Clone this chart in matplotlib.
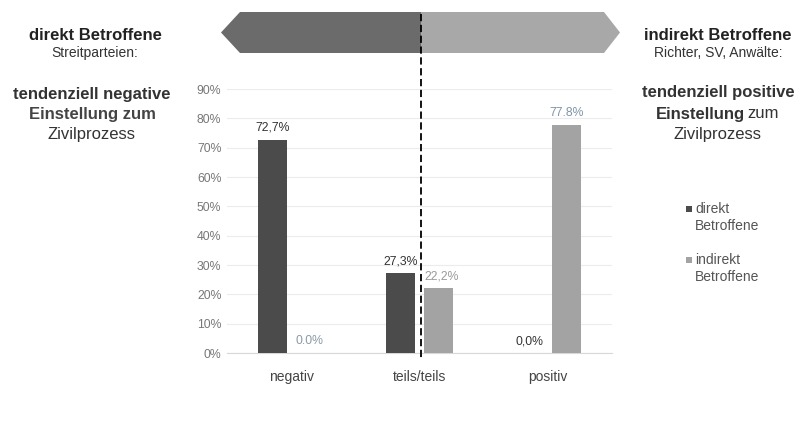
import matplotlib.pyplot as plt
from matplotlib.patches import Polygon
from matplotlib.lines import Line2D
import numpy as np

plt.rcParams['font.family'] = ['Liberation Sans', 'DejaVu Sans']

# data
categories = ["negativ", "teils/teils", "positiv"]
direkt = [72.7, 27.3, 0.0]
indirekt = [0.0, 22.2, 77.8]
direkt_labels = ["72,7%", "27,3%", "0,0%"]
indirekt_labels = ["0.0%", "22,2%", "77.8%"]
yticks = [0, 10, 20, 30, 40, 50, 60, 70, 80, 90]

DARK = "#4b4b4b"
LIGHT = "#a3a3a3"

W, H = 810, 430
fig = plt.figure(figsize=(8.1, 4.3), dpi=100)
fig.patch.set_facecolor("white")


def fx(px):
    return px / W


def fy(py):
    return 1 - py / H


ax = fig.add_axes([fx(227), fy(353), fx(612) - fx(227), fy(89) - fy(353)])
x = np.arange(len(categories))
off = 0.145
bw = 0.225
ax.bar(x - off, direkt, bw, color=DARK, zorder=3)
ax.bar(x + off, indirekt, bw, color=LIGHT, zorder=3)

for i in range(len(categories)):
    ax.text(x[i] - off, direkt[i] + 2, direkt_labels[i], ha="center", va="bottom",
            fontsize=8.8, color="#333333")
for i, c in enumerate(["#8a9aa6", "#9a9a9a", "#7f95a8"]):
    ax.text(x[i] + off + (0.03 if i == 1 else 0), indirekt[i] + 2, indirekt_labels[i],
            ha="center", va="bottom", fontsize=8.8, color=c)

ax.set_xlim(-0.5, 2.5)
ax.set_ylim(0, 90)
ax.set_yticks(yticks)
ax.set_yticklabels([f"{t}%" for t in yticks], fontsize=8.8, color="#777777")
ax.set_xticks(x)
ax.set_xticklabels(categories, fontsize=10, color="#444444")
ax.tick_params(length=0, pad=12)
ax.tick_params(axis="y", pad=4)
ax.grid(axis="y", color="#ececec", linewidth=0.8, zorder=0)
for s in ["top", "right", "left"]:
    ax.spines[s].set_visible(False)
ax.spines["bottom"].set_color("#d8d8d8")

# arrows on top
left_arrow = Polygon([(fx(221), fy(32.5)), (fx(240), fy(12)), (fx(421), fy(12)),
                      (fx(421), fy(53)), (fx(240), fy(53))],
                     closed=True, transform=fig.transFigure, facecolor="#6b6b6b",
                     edgecolor="none")
right_arrow = Polygon([(fx(421), fy(12)), (fx(604), fy(12)), (fx(620), fy(32.5)),
                       (fx(604), fy(53)), (fx(421), fy(53))],
                      closed=True, transform=fig.transFigure, facecolor="#a8a8a8",
                      edgecolor="none")
fig.add_artist(left_arrow)
fig.add_artist(right_arrow)

# dashed divider
fig.add_artist(Line2D([fx(421), fx(421)], [fy(14), fy(358)], transform=fig.transFigure,
                      color="black", linestyle=(0, (4, 2)), linewidth=1.3))

# left side text
fig.text(fx(95), fy(35), "direkt Betroffene", ha="center", va="center",
         fontsize=12, fontweight="bold", color="#222222")
fig.text(fx(95), fy(53), "Streitparteien:", ha="center", va="center",
         fontsize=10, color="#333333")
fig.text(fx(92), fy(94), "tendenziell negative", ha="center", va="center",
         fontsize=12, fontweight="bold", color="#333333")
fig.text(fx(92), fy(115), "Einstellung zum", ha="center", va="center",
         fontsize=12, fontweight="bold", color="#444444")
fig.text(fx(92), fy(135), "Zivilprozess", ha="center", va="center",
         fontsize=12, color="#333333")

# right side text
fig.text(fx(718), fy(35), "indirekt Betroffene", ha="center", va="center",
         fontsize=12, fontweight="bold", color="#222222")
fig.text(fx(718), fy(53), "Richter, SV, Anwälte:", ha="center", va="center",
         fontsize=10, color="#333333")
fig.text(fx(718), fy(93), "tendenziell positive", ha="center", va="center",
         fontsize=12, fontweight="bold", color="#333333")
fig.text(fx(700), fy(114), "Einstellung", ha="center", va="center",
         fontsize=12, fontweight="bold", color="#333333")
fig.text(fx(763), fy(114), "zum", ha="center", va="center",
         fontsize=12, color="#333333")
fig.text(fx(718), fy(134), "Zivilprozess", ha="center", va="center",
         fontsize=12, color="#333333")

# legend
fig.patches.append(plt.Rectangle((fx(686), fy(212)), fx(6), 6 / H, transform=fig.transFigure,
                                 facecolor=DARK, edgecolor="none"))
fig.patches.append(plt.Rectangle((fx(686), fy(263)), fx(6), 6 / H, transform=fig.transFigure,
                                 facecolor=LIGHT, edgecolor="none"))
fig.text(fx(695), fy(209), "direkt", ha="left", va="center", fontsize=10, color="#555555")
fig.text(fx(695), fy(226), "Betroffene", ha="left", va="center", fontsize=10, color="#555555")
fig.text(fx(695), fy(260), "indirekt", ha="left", va="center", fontsize=10, color="#555555")
fig.text(fx(695), fy(277), "Betroffene", ha="left", va="center", fontsize=10, color="#555555")

fig.savefig("out.png", dpi=100)
